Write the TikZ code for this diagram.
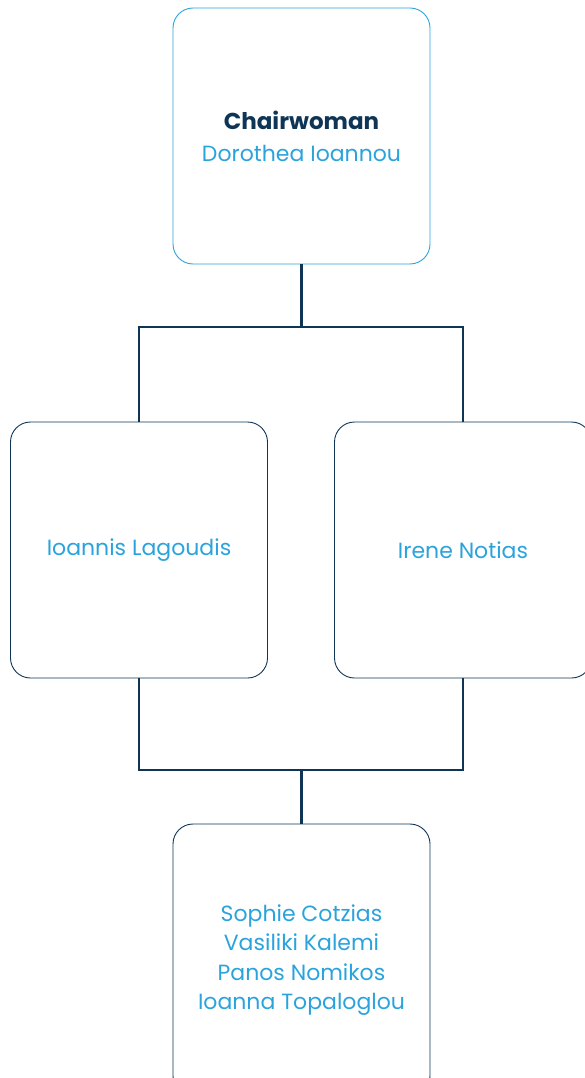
\documentclass[tikz,border=0pt]{standalone}
\usepackage{fontspec}
\setmainfont{Poppins}
\usepackage{tikz}
\usetikzlibrary{positioning}

\definecolor{navy}{HTML}{0F3556}
\definecolor{sky}{HTML}{2AA3DC}

\begin{document}
\begin{tikzpicture}
		[x=1pt, y=-1pt,
			box/.style={draw=navy, line width=0.9pt, rounded corners=20pt, minimum width=257pt,
				minimum height=256pt, align=center, text=sky, font=\fontsize{22}{29.5}\selectfont},
			headbox/.style={box, draw=sky, font=\fontsize{22}{32}\selectfont},
			link/.style={draw=navy, line width=2.6pt}]
		\useasboundingbox (0,0) rectangle (584,1078);
		% the boxes
		\node[headbox] (chair) at (301.5,136) {{\color{navy}\bfseries\fontsize{23}{32}\selectfont Chairwoman}\\Dorothea Ioannou};
		\node[box] (lagoudis) at (139,550) {Ioannis Lagoudis};
		\node[box] (notias) at (463,550) {Irene Notias};
		\node[box, minimum height=272pt] (members) at (301.5,960) {Sophie Cotzias\\Vasiliki Kalemi\\Panos Nomikos\\Ioanna Topaloglou};
		% branching points
		\coordinate (split1) at (301.5,327);
		\coordinate (split2) at (301.5,770);
		% connect the boxes
		\draw[link] (chair.south) -- (split1);
		\draw[link] (lagoudis.north) |- (split1) -| (notias.north);
		\draw[link] (lagoudis.south) |- (split2) -| (notias.south);
		\draw[link] (split2) -- (members.north);
	\end{tikzpicture}
\end{document}
